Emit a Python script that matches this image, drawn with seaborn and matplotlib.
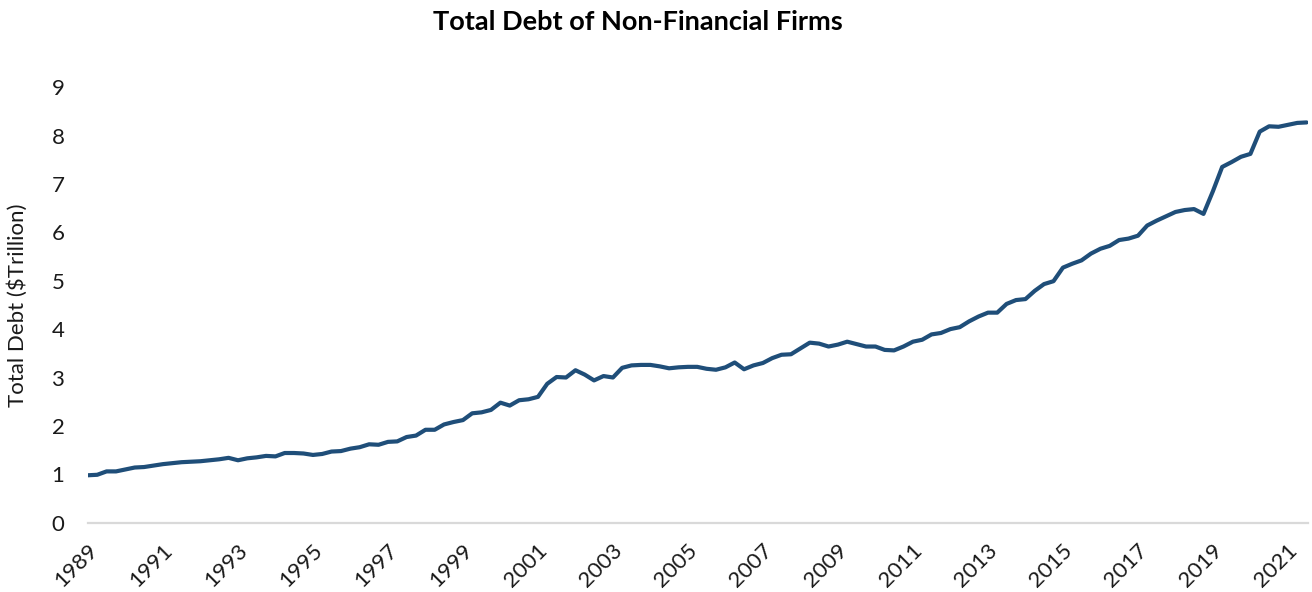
import pandas as pd
import numpy as np
import matplotlib
matplotlib.use('Agg')
import matplotlib.pyplot as plt
import matplotlib.transforms as mtransforms
import seaborn as sns

# quarterly readings, 1989Q1 .. 2021Q3 ($ trillion)
start_date = "1989-01-01"
end_date = "2021-07-01"
debt_values = [
    0.98, 0.99, 1.06, 1.06,   # 1989
    1.10, 1.14, 1.15, 1.18,   # 1990
    1.21, 1.23, 1.25, 1.26,   # 1991
    1.27, 1.29, 1.31, 1.34,   # 1992
    1.29, 1.33, 1.35, 1.38,   # 1993
    1.37, 1.44, 1.44, 1.43,   # 1994
    1.40, 1.42, 1.47, 1.48,   # 1995
    1.53, 1.56, 1.62, 1.61,   # 1996
    1.67, 1.68, 1.77, 1.80,   # 1997
    1.92, 1.92, 2.03, 2.08,   # 1998
    2.12, 2.26, 2.28, 2.33,   # 1999
    2.48, 2.42, 2.53, 2.55,   # 2000
    2.60, 2.87, 3.01, 3.00,   # 2001
    3.15, 3.06, 2.94, 3.03,   # 2002
    3.00, 3.20, 3.25, 3.26,   # 2003
    3.26, 3.23, 3.19, 3.21,   # 2004
    3.22, 3.22, 3.18, 3.16,   # 2005
    3.21, 3.31, 3.17, 3.25,   # 2006
    3.30, 3.40, 3.47, 3.48,   # 2007
    3.60, 3.72, 3.70, 3.64,   # 2008
    3.68, 3.74, 3.69, 3.64,   # 2009
    3.64, 3.57, 3.56, 3.64,   # 2010
    3.74, 3.78, 3.89, 3.92,   # 2011
    4.00, 4.04, 4.16, 4.26,   # 2012
    4.34, 4.34, 4.52, 4.60,   # 2013
    4.62, 4.79, 4.93, 4.99,   # 2014
    5.27, 5.35, 5.42, 5.56,   # 2015
    5.66, 5.72, 5.84, 5.87,   # 2016
    5.93, 6.14, 6.24, 6.33,   # 2017
    6.42, 6.46, 6.48, 6.38,   # 2018
    6.85, 7.35, 7.45, 7.56,   # 2019
    7.62, 8.08, 8.19, 8.18,   # 2020
    8.22, 8.26, 8.27,         # 2021
]
tick_years = list(range(1989, 2022, 2))
y_ticks = list(range(0, 10))

title_text = "Total Debt of Non-Financial Firms"
y_label = "Total Debt ($Trillion)"
line_color = "#1F4E79"

df = pd.DataFrame({
    "date": pd.date_range(start_date, end_date, freq="QS"),
    "debt": debt_values,
})

sns.set_theme(style="white")
plt.rcParams['font.family'] = ['Lato', 'DejaVu Sans']

fig = plt.figure(figsize=(13.12, 5.92), dpi=100)
ax = fig.add_axes([88 / 1312, 1 - 522.7 / 592, 1220 / 1312, (522.7 - 87.1) / 592])

sns.lineplot(data=df, x="date", y="debt", color=line_color, linewidth=3.0, ax=ax)

ax.set_ylim(0, 9)
ax.set_xlim(pd.Timestamp(start_date), pd.Timestamp("2021-07-15"))
ax.set_yticks(y_ticks)
ax.set_xticks([pd.Timestamp(f"{yr}-01-01") for yr in tick_years])
ax.set_xticklabels([str(yr) for yr in tick_years])

for side in ["top", "right", "left"]:
    ax.spines[side].set_visible(False)
ax.spines["bottom"].set_color("#D9D9D9")
ax.spines["bottom"].set_linewidth(1.6)

ax.tick_params(axis='y', length=0, pad=17, labelsize=16, labelcolor="#1a1a1a")
ax.tick_params(axis='x', length=0, pad=18, labelsize=16, labelcolor="#1a1a1a")
# nudge the rotated year labels a little to the right, like the Excel original
shift = mtransforms.ScaledTranslation(6 / 100, 0, fig.dpi_scale_trans)
for lbl in ax.get_xticklabels():
    lbl.set_rotation(45)
    lbl.set_ha('right')
    lbl.set_va('center')
    lbl.set_rotation_mode('anchor')
    lbl.set_transform(lbl.get_transform() + shift)

ax.set_xlabel("")
ax.set_ylabel(y_label, fontsize=16, color="#1a1a1a")
ax.yaxis.set_label_coords(-0.049, 0.5)

fig.text(638 / 1312, 1 - 21.5 / 592, title_text, fontsize=19.5, fontweight='bold',
         color="black", ha='center', va='center')

fig.savefig("out.png", dpi=100)
plt.close(fig)
